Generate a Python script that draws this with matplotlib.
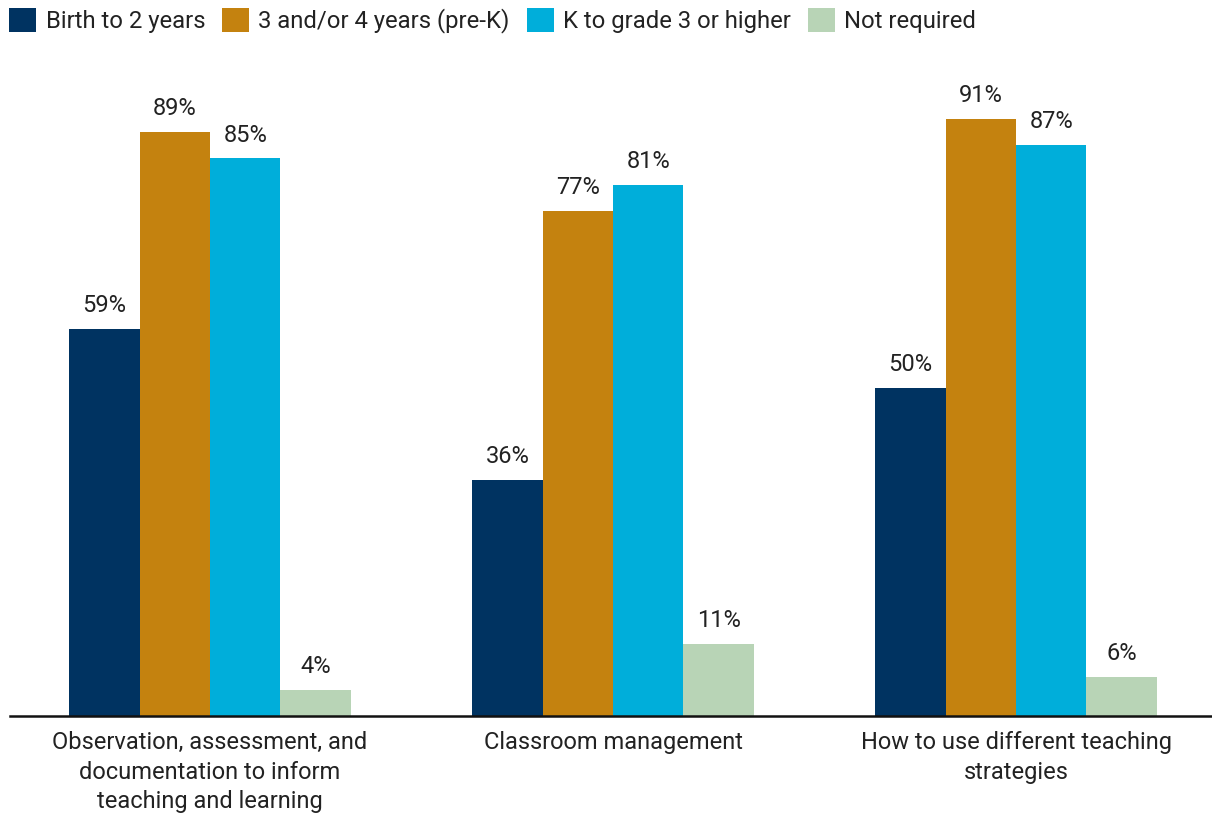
import matplotlib
matplotlib.use("Agg")
import matplotlib.pyplot as plt
from matplotlib.patches import Patch
import numpy as np

plt.rcParams['font.family'] = ['Roboto', 'DejaVu Sans']

categories = [
    "Observation, assessment, and\ndocumentation to inform\nteaching and learning",
    "Classroom management",
    "How to use different teaching\nstrategies",
]
series = ["Birth to 2 years", "3 and/or 4 years (pre-K)", "K to grade 3 or higher", "Not required"]
birth_to_2 = [59, 36, 50]
pre_k = [89, 77, 91]
k_to_3 = [85, 81, 87]
not_required = [4, 11, 6]

colors = ["#003361", "#C4820F", "#00AEDA", "#B8D4B6"]
values = [birth_to_2, pre_k, k_to_3, not_required]

fig = plt.figure(figsize=(12.12, 8.13), dpi=100)
ax = fig.add_axes([10 / 1212, (813 - 716) / 813, 1 - 10 / 1212, 656 / 813])

x = np.arange(len(categories))
w = 0.1745
for i, (vals, c) in enumerate(zip(values, colors)):
    pos = x + (i - 1.5) * w
    bars = ax.bar(pos, vals, width=w, color=c, linewidth=0)
    for b, v in zip(bars, vals):
        ax.annotate(f"{v}%", (b.get_x() + b.get_width() / 2, v),
                    xytext=(0, 8.5), textcoords="offset points",
                    ha="center", va="bottom", fontsize=17, color="#222222")

ax.set_xlim(-0.4963, 2.486)
ax.set_ylim(0, 100)
ax.set_yticks([])
ax.set_xticks(x)
ax.set_xticklabels(categories, fontsize=17, color="#222222", linespacing=1.35)
ax.tick_params(axis="x", length=0, pad=11)
for s in ["top", "right", "left"]:
    ax.spines[s].set_visible(False)
ax.spines["bottom"].set_linewidth(1.8)
ax.spines["bottom"].set_color("#111111")

handles = [Patch(facecolor=c, edgecolor="none") for c in colors]
fig.legend(handles, series, loc="upper left", bbox_to_anchor=(9 / 1212, 1 - 8 / 813),
           ncol=4, frameon=False, fontsize=17.2, handlelength=1.15, handleheight=1.15,
           handletextpad=0.38, columnspacing=0.7, borderpad=0, borderaxespad=0,
           labelcolor="#222222")

fig.savefig("out.png", dpi=100)
